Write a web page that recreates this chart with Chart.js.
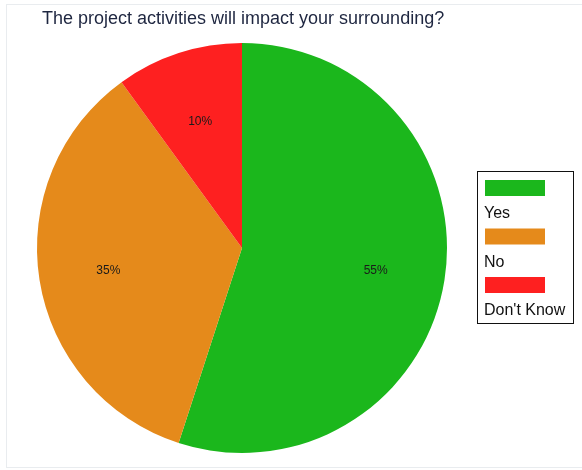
<!DOCTYPE html>
<html>
<head>
<meta charset="utf-8">
<script src="https://cdn.jsdelivr.net/npm/chart.js@4/dist/chart.umd.min.js"></script>
<style>
  html, body { margin: 0; padding: 0; background: #fff; }
  #wrap { width: 582px; height: 470px; position: relative; }
</style>
</head>
<body>
<div id="wrap"><canvas id="pieChart" width="582" height="470"></canvas></div>
<script>
const chartTitle = 'The project activities will impact your surrounding?';
const categories = ['Yes', 'No', "Don't Know"];
const shares = [55, 35, 10];
const sliceColors = ['#1bb71c', '#e58a1b', '#fe2020'];

// frame, title, slice percentages and the boxed legend on the right
const decorations = {
    id: 'decorations',
    beforeDraw(chart) {
        const ctx = chart.ctx;
        ctx.save();
        ctx.strokeStyle = '#e9ecef';
        ctx.lineWidth = 1;
        ctx.strokeRect(6.5, 4.5, 590, 463);
        ctx.restore();
    },
    afterDraw(chart) {
        const ctx = chart.ctx;
        ctx.save();

        ctx.fillStyle = '#1e2640';
        ctx.font = '18px Arial, "Liberation Sans", sans-serif';
        ctx.textBaseline = 'middle';
        ctx.textAlign = 'left';
        ctx.fillText(chartTitle, 42, 19);

        // percentages inside each slice
        const meta = chart.getDatasetMeta(0);
        ctx.font = '12px Arial, "Liberation Sans", sans-serif';
        ctx.fillStyle = '#1a1a1a';
        ctx.textAlign = 'center';
        meta.data.forEach((arc, i) => {
            const mid = (arc.startAngle + arc.endAngle) / 2;
            const r = arc.outerRadius * 0.66;
            ctx.fillText(shares[i] + '%', arc.x + Math.cos(mid) * r, arc.y + Math.sin(mid) * r + 2);
        });

        // legend: colour bar with its label underneath
        const lx = 477, ly = 171;
        ctx.strokeStyle = '#111';
        ctx.lineWidth = 1;
        ctx.strokeRect(lx + 0.5, ly + 0.5, 96, 152);
        ctx.font = '16px Arial, "Liberation Sans", sans-serif';
        ctx.textAlign = 'left';
        categories.forEach((name, i) => {
            const y = ly + 9 + i * 48.5;
            ctx.fillStyle = sliceColors[i];
            ctx.fillRect(lx + 8, y, 60, 16);
            ctx.fillStyle = '#111';
            ctx.fillText(name, lx + 7, y + 34);
        });

        ctx.restore();
    }
};

new Chart(document.getElementById('pieChart').getContext('2d'), {
    type: 'pie',
    data: {
        labels: categories,
        datasets: [{
            data: shares,
            backgroundColor: sliceColors,
            borderWidth: 0
        }]
    },
    options: {
        responsive: false,
        animation: false,
        layout: { padding: { left: 37, right: 135, top: 43, bottom: 17 } },
        plugins: {
            legend: { display: false },
            tooltip: { enabled: false }
        }
    },
    plugins: [decorations]
});
</script>
</body>
</html>
